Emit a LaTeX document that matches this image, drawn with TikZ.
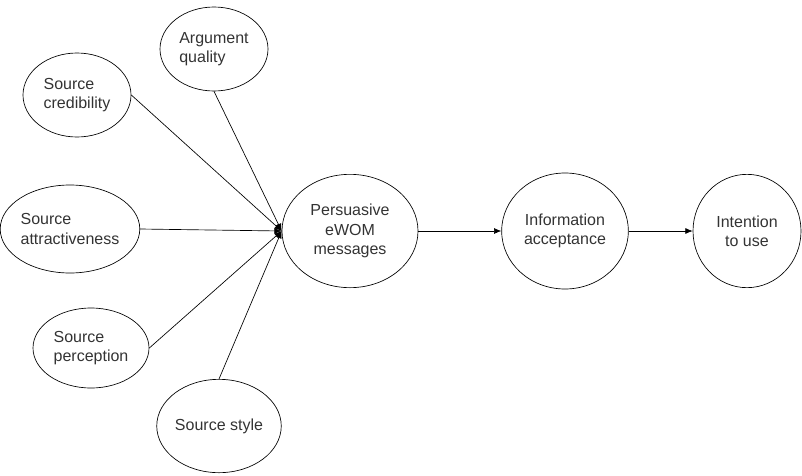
\documentclass[tikz,border=0pt]{standalone}
\usepackage{fontspec}
\setmainfont{Liberation Sans}
\usetikzlibrary{shapes.geometric,arrows.meta}

\begin{document}
\begin{tikzpicture}[x=0.75pt,y=-0.75pt,
        construct/.style={draw, ellipse, line width=0.5pt, inner sep=0pt, text=black!80,
            font=\fontsize{12}{14.5}\selectfont},
        link/.style={line width=0.5pt, -{Latex[length=5.5pt,width=4.5pt]}}]

                \useasboundingbox (0,0) rectangle (802,475);

                %Antecedents
                \node[construct, align=left, minimum width=81pt, minimum height=63pt] (quality) at (214,49) {Argument\\quality};
                \node[construct, align=left, minimum width=81pt, minimum height=63pt] (credibility) at (77,95) {Source\\credibility};
                \node[construct, align=left, minimum width=90.75pt, minimum height=66pt] (attract) at (70,229) {Source\\attractiveness};
                \node[construct, align=left, minimum width=87pt, minimum height=60pt] (perception) at (91,348) {Source\\perception};
                \node[construct, minimum width=85.5pt, minimum height=70pt] (style) at (219,426) {Source style};

                %Main chain
                \node[construct, align=center, minimum width=102pt, minimum height=85pt] (eWOM) at (350,231) {Persuasive\\eWOM\\messages};
                \node[construct, align=center, minimum width=95pt, minimum height=87pt] (accept) at (565,231) {Information\\acceptance};
                \node[construct, align=center, minimum width=81pt, minimum height=85pt] (intent) at (747,231) {Intention\\to use};

                %Paths
                \draw[link] (quality.south) -- (eWOM.west);
                \draw[link] (credibility.east) -- (eWOM.west);
                \draw[link] (attract.east) -- (eWOM.west);
                \draw[link] (perception.east) -- (eWOM.west);
                \draw[link] (style.north) -- (eWOM.west);
                \draw[link] (eWOM.east) -- (accept.west);
                \draw[link] (accept.east) -- (intent.west);

\end{tikzpicture}
\end{document}
